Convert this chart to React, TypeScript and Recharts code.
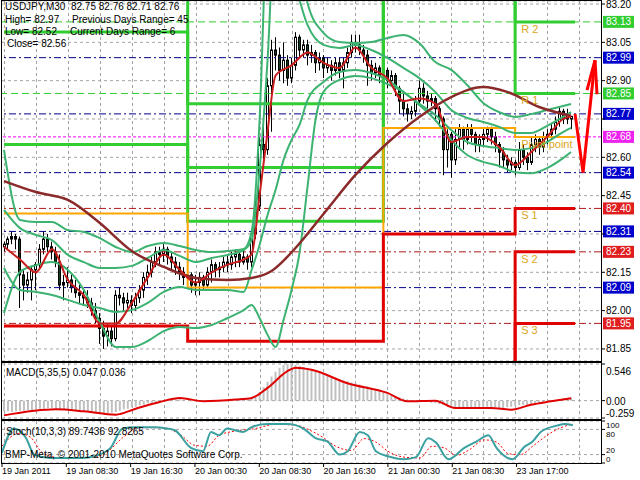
import React from 'react';
import {
  ComposedChart,
  Bar,
  Line,
  XAxis,
  YAxis,
  CartesianGrid,
  ReferenceLine,
  ReferenceDot,
} from 'recharts';

const FONT = '"Liberation Sans", Arial, sans-serif';
const SLOTS = 150; // 143 half-hour candles + room for the arrow on the right
const PLOT_LEFT = 2;
const PLOT_WIDTH = 599;
const GRID = '#A4A4A4';

// [open, high, low, close], USDJPY M30
const candles: number[][] = [
  [82.25, 82.27, 82.23, 82.26], [82.26, 82.29, 82.24, 82.28], [82.28, 82.31, 82.26, 82.29], [82.29, 82.30, 82.24, 82.28], [82.28, 82.29, 82.01, 82.14],
  [82.14, 82.16, 82.04, 82.10], [82.10, 82.15, 82.07, 82.12], [82.12, 82.17, 82.04, 82.16], [82.16, 82.19, 82.08, 82.18], [82.18, 82.26, 82.16, 82.24],
  [82.24, 82.31, 82.22, 82.28], [82.28, 82.30, 82.23, 82.25], [82.25, 82.27, 82.20, 82.23], [82.23, 82.25, 82.17, 82.19], [82.19, 82.22, 82.08, 82.10],
  [82.10, 82.14, 82.04, 82.11], [82.11, 82.17, 82.09, 82.12], [82.12, 82.14, 82.07, 82.09], [82.09, 82.12, 82.05, 82.07], [82.07, 82.10, 82.03, 82.06],
  [82.06, 82.09, 82.02, 82.05], [82.05, 82.08, 82.01, 82.03], [82.03, 82.05, 81.98, 82.00], [82.00, 82.03, 81.95, 81.97], [81.97, 81.99, 81.87, 81.93],
  [81.93, 81.96, 81.85, 81.90], [81.90, 81.95, 81.86, 81.92], [81.92, 81.94, 81.86, 81.89], [81.89, 82.08, 81.88, 82.06], [82.06, 82.09, 82.02, 82.05],
  [82.05, 82.07, 82.00, 82.03], [82.03, 82.07, 82.01, 82.04], [82.04, 82.06, 81.99, 82.02], [82.02, 82.07, 82.00, 82.05], [82.05, 82.10, 82.03, 82.08],
  [82.08, 82.15, 82.05, 82.13], [82.13, 82.18, 82.10, 82.15], [82.15, 82.21, 82.13, 82.19], [82.19, 82.25, 82.17, 82.23], [82.23, 82.25, 82.18, 82.22],
  [82.22, 82.26, 82.19, 82.24], [82.24, 82.25, 82.18, 82.21], [82.21, 82.23, 82.16, 82.19], [82.19, 82.21, 82.14, 82.17], [82.17, 82.19, 82.12, 82.15],
  [82.15, 82.17, 82.10, 82.13], [82.13, 82.17, 82.11, 82.14], [82.14, 82.15, 82.07, 82.10], [82.10, 82.14, 82.06, 82.11], [82.11, 82.15, 82.06, 82.13],
  [82.13, 82.14, 82.08, 82.10], [82.10, 82.17, 82.09, 82.15], [82.15, 82.20, 82.11, 82.18], [82.18, 82.19, 82.13, 82.16], [82.16, 82.19, 82.13, 82.17],
  [82.17, 82.21, 82.15, 82.19], [82.19, 82.22, 82.15, 82.18], [82.18, 82.23, 82.16, 82.21], [82.21, 82.24, 82.17, 82.22], [82.22, 82.23, 82.17, 82.19],
  [82.19, 82.24, 82.18, 82.21], [82.21, 82.22, 82.16, 82.19], [82.19, 82.32, 82.17, 82.30], [82.30, 82.43, 82.28, 82.41], [82.41, 82.68, 82.39, 82.65],
  [82.65, 82.75, 82.59, 82.63], [82.63, 82.91, 82.61, 82.88], [82.88, 83.06, 82.70, 83.02], [83.02, 83.07, 82.94, 83.00], [83.00, 83.03, 82.90, 82.94],
  [82.94, 83.05, 82.89, 82.98], [82.98, 83.00, 82.88, 82.91], [82.91, 82.99, 82.89, 82.96], [82.96, 83.09, 82.94, 83.07], [83.07, 83.08, 82.99, 83.02],
  [83.02, 83.06, 82.99, 83.04], [83.04, 83.06, 82.96, 83.00], [83.00, 83.04, 82.97, 83.01], [83.01, 83.02, 82.93, 82.97], [82.97, 83.01, 82.94, 82.99],
  [82.99, 83.00, 82.91, 82.95], [82.95, 82.99, 82.93, 82.96], [82.96, 82.98, 82.90, 82.94], [82.94, 82.99, 82.92, 82.97], [82.97, 82.99, 82.91, 82.94],
  [82.94, 82.99, 82.87, 82.97], [82.97, 83.03, 82.95, 83.01], [83.01, 83.08, 82.99, 83.05], [83.05, 83.08, 83.01, 83.04], [83.04, 83.08, 83.00, 83.02],
  [83.02, 83.04, 82.97, 83.00], [83.00, 83.02, 82.88, 82.96], [82.96, 82.98, 82.90, 82.93], [82.93, 82.97, 82.91, 82.95], [82.95, 82.96, 82.89, 82.92],
  [82.92, 82.96, 82.83, 82.94], [82.94, 82.95, 82.87, 82.90], [82.90, 82.94, 82.88, 82.92], [82.92, 82.93, 82.84, 82.87], [82.87, 82.88, 82.77, 82.82],
  [82.82, 82.85, 82.76, 82.79], [82.79, 82.81, 82.74, 82.77], [82.77, 82.80, 82.75, 82.78], [82.78, 82.84, 82.76, 82.82], [82.82, 82.90, 82.81, 82.87],
  [82.87, 82.89, 82.81, 82.84], [82.84, 82.86, 82.79, 82.82], [82.82, 82.85, 82.80, 82.83], [82.83, 82.84, 82.74, 82.79], [82.79, 82.80, 82.72, 82.75],
  [82.75, 82.76, 82.53, 82.63], [82.63, 82.71, 82.56, 82.69], [82.69, 82.70, 82.52, 82.59], [82.59, 82.71, 82.57, 82.67], [82.67, 82.73, 82.64, 82.71],
  [82.71, 82.72, 82.63, 82.67], [82.67, 82.73, 82.65, 82.71], [82.71, 82.73, 82.66, 82.69], [82.69, 82.70, 82.62, 82.65], [82.65, 82.69, 82.62, 82.67],
  [82.67, 82.71, 82.64, 82.69], [82.69, 82.72, 82.66, 82.71], [82.71, 82.72, 82.65, 82.68], [82.68, 82.70, 82.62, 82.65], [82.65, 82.66, 82.56, 82.62],
  [82.62, 82.64, 82.56, 82.59], [82.59, 82.61, 82.54, 82.57], [82.57, 82.60, 82.55, 82.58], [82.58, 82.59, 82.53, 82.56], [82.56, 82.66, 82.55, 82.63],
  [82.63, 82.65, 82.57, 82.60], [82.60, 82.62, 82.55, 82.58], [82.58, 82.68, 82.57, 82.65], [82.65, 82.69, 82.62, 82.67], [82.67, 82.68, 82.61, 82.64],
  [82.64, 82.70, 82.62, 82.68], [82.68, 82.71, 82.65, 82.69], [82.69, 82.73, 82.67, 82.71], [82.71, 82.76, 82.69, 82.74], [82.74, 82.80, 82.72, 82.78],
  [82.78, 82.79, 82.73, 82.75], [82.75, 82.79, 82.73, 82.77], [82.75, 82.76, 82.71, 82.76],
];

// moving averages, [bar, price]
const maFast = [
  [0, 82.25], [4, 82.2], [8, 82.15], [12, 82.24], [16, 82.12], [20, 82.06], [24, 81.95], [28, 81.95], [32, 82.03],
  [36, 82.13], [40, 82.22], [44, 82.16], [48, 82.11], [52, 82.15], [56, 82.18], [60, 82.2], [62, 82.22], [64, 82.45],
  [66, 82.7], [68, 82.92], [72, 82.96], [76, 83.01], [80, 82.97], [84, 82.95], [88, 83.03], [92, 82.95], [96, 82.91],
  [100, 82.82], [104, 82.83], [108, 82.81], [112, 82.66], [116, 82.68], [120, 82.68], [124, 82.64], [128, 82.57],
  [132, 82.62], [136, 82.68], [140, 82.75], [142, 82.76],
];
const maSlow = [
  [0, 82.507], [8, 82.464], [16, 82.433], [24, 82.343], [32, 82.233], [40, 82.171], [48, 82.128], [56, 82.12],
  [62, 82.128], [67, 82.155], [73, 82.245], [80, 82.378], [88, 82.531], [96, 82.656], [104, 82.758], [112, 82.836],
  [120, 82.875], [126, 82.856], [134, 82.797], [142, 82.762],
];

// envelope bands, [bar, price]
const bandUpperOuter = [
  [0, 82.629], [4, 82.355], [8, 82.347], [12, 82.347], [16, 82.315], [20, 82.308], [24, 82.284], [28, 82.249],
  [32, 82.229], [36, 82.253], [40, 82.265], [44, 82.253], [48, 82.237], [52, 82.229], [56, 82.233], [60, 82.241],
  [62, 82.308], [64, 82.746], [66, 83.61], [68, 83.9], [72, 83.6], [76, 83.204], [80, 83.087], [84, 83.051],
  [88, 83.047], [92, 83.051], [96, 83.067], [100, 83.079], [104, 83.047], [108, 82.973], [112, 82.942], [116, 82.883],
  [120, 82.813], [124, 82.777], [128, 82.758], [132, 82.769], [136, 82.785], [140, 82.801], [142, 82.809],
];
const bandUpperInner = [
  [0, 82.394], [4, 82.323], [8, 82.296], [12, 82.276], [16, 82.218], [20, 82.19], [24, 82.167], [28, 82.167],
  [32, 82.175], [36, 82.206], [40, 82.237], [44, 82.214], [48, 82.19], [52, 82.206], [56, 82.218], [60, 82.237],
  [62, 82.276], [64, 82.55], [66, 82.981], [68, 83.53], [72, 83.33], [76, 83.118], [80, 83.04], [84, 83.028],
  [88, 83.04], [92, 83.02], [96, 82.989], [100, 82.95], [104, 82.91], [108, 82.856], [112, 82.785], [116, 82.754],
  [120, 82.738], [124, 82.719], [128, 82.695], [132, 82.695], [136, 82.723], [140, 82.758], [142, 82.777],
];
const bandLowerInner = [
  [0, 82.167], [4, 82.081], [8, 82.073], [12, 82.061], [16, 82.042], [20, 82.022], [24, 82.01], [28, 81.995],
  [32, 82.002], [36, 82.03], [40, 82.073], [44, 82.092], [48, 82.081], [52, 82.081], [56, 82.081], [60, 82.073],
  [62, 82.159], [64, 82.257], [66, 82.374], [68, 82.472], [70, 82.59], [72, 82.668], [74, 82.727], [76, 82.824],
  [80, 82.895], [84, 82.934], [88, 82.942], [92, 82.93], [96, 82.903], [100, 82.856], [104, 82.809], [108, 82.766],
  [112, 82.707], [116, 82.66], [120, 82.644], [124, 82.636], [128, 82.629], [132, 82.636], [136, 82.66], [140, 82.699],
  [142, 82.715],
];
const bandLowerOuter = [
  [0, 81.991], [4, 82.151], [8, 82.178], [12, 82.19], [16, 82.159], [20, 82.081], [24, 81.955], [28, 81.858],
  [32, 81.858], [36, 81.881], [40, 81.92], [44, 81.936], [48, 81.932], [52, 81.944], [56, 81.971], [60, 82.002],
  [62, 82.022], [64, 81.971], [66, 81.905], [68, 81.858], [70, 81.963], [72, 82.081], [74, 82.225], [76, 82.484],
  [78, 82.746], [80, 82.856], [84, 82.903], [88, 82.918], [92, 82.91], [96, 82.887], [100, 82.856], [104, 82.805],
  [108, 82.746], [112, 82.668], [116, 82.609], [120, 82.582], [124, 82.566], [128, 82.542], [132, 82.538],
  [136, 82.558], [140, 82.597], [142, 82.621],
];

// daily pivot levels, one value per day start (last entry closes the final day)
const dayStarts = [0, 46, 95, 128, 143];
const pivotR3 = [83.6, 82.81, 83.6, 83.6, 83.6];
const pivotR2 = [83.09, 82.56, 83.5, 83.13, 83.13];
const pivotR1 = [82.65, 82.35, 83.4, 82.85, 82.85];
const pivotP = [82.38, 82.09, 82.715, 82.68, 82.68];
const pivotS1 = [81.94, 81.88, 82.3, 82.4, 82.4];
const pivotS2 = [81.5, 81.5, 81.6, 82.23, 82.23];
const pivotS3 = [81.3, 81.3, 81.4, 81.95, 81.95];
const pivotTags = ['R 2', 'R 1', 'Pivot point', 'S 1', 'S 2', 'S 3'];
const pivotTagValues = [83.13, 82.85, 82.68, 82.4, 82.23, 81.95];

// horizontal levels with price tags on the scale
const levelValues = [83.13, 82.99, 82.85, 82.77, 82.68, 82.54, 82.4, 82.31, 82.23, 82.09, 81.95];
const levelKinds = ['g', 'b', 'g', 'b', 'm', 'b', 'r', 'b', 'r', 'b', 'r'];

// forecast arrow, [bar, price]
const arrowPts = [[143, 82.77], [145, 82.54], [148, 82.98]];

// MACD(5,35,5)
const macdHist = [
  -0.16, -0.16, -0.17, -0.16, -0.15, -0.15, -0.14, -0.14, -0.13, -0.12, -0.12, -0.11, -0.11, -0.12, -0.13, -0.14,
  -0.14, -0.15, -0.15, -0.16, -0.16, -0.17, -0.17, -0.18, -0.18, -0.19, -0.19, -0.18, -0.17, -0.15, -0.13, -0.12,
  -0.1, -0.09, -0.07, -0.06, -0.04, -0.03, -0.02, -0.01, 0.01, 0.02, 0.03, 0.03, 0.02, 0.01, 0.0, -0.01,
  -0.01, -0.02, -0.02, -0.01, -0.01, 0.0, 0.0, 0.01, 0.01, 0.02, 0.02, 0.03, 0.03, 0.03, 0.04, 0.07,
  0.13, 0.2, 0.28, 0.36, 0.43, 0.49, 0.53, 0.546, 0.54, 0.53, 0.52, 0.5, 0.48, 0.46, 0.44, 0.42,
  0.4, 0.38, 0.36, 0.34, 0.32, 0.3, 0.29, 0.27, 0.26, 0.24, 0.22, 0.21, 0.19, 0.17, 0.15, 0.13,
  0.11, 0.09, 0.07, 0.05, 0.03, 0.02, 0.01, 0.0, -0.01, -0.01, -0.02, -0.03, -0.04, -0.05, -0.06, -0.08,
  -0.1, -0.11, -0.12, -0.12, -0.12, -0.11, -0.1, -0.1, -0.09, -0.09, -0.1, -0.1, -0.11, -0.11, -0.1, -0.09,
  -0.08, -0.07, -0.06, -0.06, -0.05, -0.04, -0.03, -0.02, -0.01, 0.0, 0.01, 0.02, 0.03, 0.04, 0.047,
];
const macdSignal = [
  [0, -0.22], [13, -0.13], [20, -0.16], [28, -0.21], [33, -0.12], [39, -0.02], [44, 0.04], [50, -0.01],
  [58, 0.015], [62, 0.04], [66, 0.19], [71, 0.44], [73, 0.49], [77, 0.46], [86, 0.26], [96, 0.115],
  [101, -0.01], [108, 0.0], [113, -0.11], [122, -0.11], [127, -0.135], [132, -0.06], [137, -0.01], [142, 0.036],
];

// Stoch(10,3,3)
const stochMain = [
  [0, 24], [3, 82], [6, 59], [8, 20], [12, 12], [20, 12], [23, 16], [27, 36], [30, 82], [33, 85], [38, 85],
  [41, 82], [43, 78], [47, 36], [50, 28], [52, 74], [54, 66], [56, 82], [60, 74], [62, 85], [66, 93], [71, 93],
  [75, 82], [78, 59], [81, 51], [84, 20], [86, 28], [89, 74], [91, 66], [93, 28], [96, 16], [100, 9], [103, 14],
  [106, 59], [108, 48], [111, 9], [115, 36], [118, 51], [121, 66], [123, 36], [127, 9], [130, 39], [132, 51],
  [134, 74], [138, 89], [140, 93], [142, 89.74],
];
const stochSignal = [
  [0, 40], [4, 70], [7, 62], [10, 25], [14, 13], [22, 13], [26, 25], [30, 60], [34, 84], [40, 84], [44, 70],
  [48, 42], [51, 40], [54, 66], [58, 76], [63, 82], [68, 92], [73, 90], [77, 76], [80, 60], [83, 40], [87, 30],
  [90, 58], [93, 50], [96, 28], [100, 14], [104, 12], [107, 40], [110, 36], [113, 18], [116, 30], [120, 55],
  [123, 50], [126, 22], [129, 20], [132, 40], [135, 62], [139, 84], [142, 92.83],
];

const priceTicks = [83.2, 83.05, 82.9, 82.75, 82.6, 82.45, 82.3, 82.15, 82.0, 81.85];
const coveredTicks = [82.75, 82.3];
const timeTicks = [0, 16, 32, 48, 64, 80, 96, 112, 128];
const timeLabels = [
  '19 Jan 2011', '19 Jan 08:30', '19 Jan 16:30', '20 Jan 00:30', '20 Jan 08:30',
  '20 Jan 16:30', '21 Jan 00:30', '21 Jan 08:30', '23 Jan 17:00',
];
const gridBars = [0, 8, 16, 24, 32, 40, 48, 56, 64, 72, 80, 88, 96, 104, 112, 120, 128, 136, 144];

// one row per bar slot
const rows: any[] = Array.from({ length: SLOTS }, (_, i) => ({ i }));
candles.forEach(([o, h, l, c], i) => Object.assign(rows[i], { o, h, l, c, range: [l, h] }));
macdHist.forEach((v, i) => (rows[i].hist = v));
const put = (key: string, pts: number[][]) => pts.forEach(([i, v]) => (rows[i][key] = v));
put('maFast', maFast);
put('maSlow', maSlow);
put('uo', bandUpperOuter);
put('ui', bandUpperInner);
put('li', bandLowerInner);
put('lo', bandLowerOuter);
put('arrow', arrowPts);
put('sig', macdSignal);
put('k', stochMain);
put('d', stochSignal);
const pivots: [string, number[]][] = [
  ['r3', pivotR3], ['r2', pivotR2], ['r1', pivotR1], ['p', pivotP], ['s1', pivotS1], ['s2', pivotS2], ['s3', pivotS3],
];
pivots.forEach(([key, vals]) => dayStarts.forEach((d, k) => (rows[d][key] = vals[k])));

const levelStyle: Record<string, { line: string; box: string; dash: string }> = {
  g: { line: '#32CD32', box: '#32CD32', dash: '7 4' },
  b: { line: '#00008B', box: '#0000CC', dash: '7 3 2 3' },
  r: { line: '#B01818', box: '#E01E1E', dash: '7 3 2 3' },
  m: { line: '#FF00FF', box: '#EE22EE', dash: '3 2' },
};
const pivotColor: Record<string, string> = {
  r3: '#32CD32', r2: '#32CD32', r1: '#32CD32', p: '#FFA500', s1: '#E00000', s2: '#E00000', s3: '#E00000',
};

// vertical grid every 8 bars, centred on the bar slots
const gridXs = gridBars.map(k => Math.round(PLOT_LEFT + ((k + 0.5) * PLOT_WIDTH) / SLOTS));
const panelSpans = [[1, 360], [363, 418], [421, 463]];

const Candle = (props: any) => {
  const { x, y, width, height, payload } = props;
  if (!payload || payload.o == null) return <g />;
  const top = Math.min(y, y + height);
  const bot = Math.max(y, y + height);
  const span = payload.h - payload.l || 1;
  const yOf = (v: number) => top + ((payload.h - v) / span) * (bot - top);
  const cx = Math.round(x + width / 2) + 0.5;
  const bTop = yOf(Math.max(payload.o, payload.c));
  const bBot = yOf(Math.min(payload.o, payload.c));
  const up = payload.c >= payload.o;
  return (
    <g>
      <line x1={cx} x2={cx} y1={top} y2={bot} stroke="#000" strokeWidth={1} />
      <rect
        x={cx - 1}
        y={bTop}
        width={2}
        height={Math.max(bBot - bTop, 1)}
        fill={up ? '#FFFFFF' : '#123D1A'}
        stroke="#000"
        strokeWidth={1}
      />
    </g>
  );
};

const LevelTag = ({ viewBox, text, color }: any) => {
  if (!viewBox) return null;
  const left = viewBox.x + viewBox.width + 2;
  return (
    <g>
      <rect x={left} y={viewBox.y - 6} width={31} height={12} fill={color} />
      <text x={left + 15.5} y={viewBox.y + 3.5} textAnchor="middle" fill="#fff" fontSize={10} fontFamily={FONT}>
        {text}
      </text>
    </g>
  );
};

const PivotTag = ({ viewBox, text }: any) =>
  viewBox ? (
    <text x={viewBox.x + 6} y={viewBox.y + 11} fill="#DAA520" fontSize={11} fontFamily={FONT}>
      {text}
    </text>
  ) : null;

const PriceTick = ({ x, y, payload }: any) =>
  coveredTicks.includes(payload.value) ? (
    <g />
  ) : (
    <text x={x} y={y} dy={3.5} fontSize={10} fontFamily={FONT} fill="#000">
      {Number(payload.value).toFixed(2)}
    </text>
  );

const MacdTick = ({ x, y, payload }: any) => {
  const v = payload.value;
  const dy = v > 0 ? 11 : v < 0 ? -1 : 4.5;
  const label = v === 0 ? '0.00' : String(v);
  return (
    <text x={x} y={y} dy={dy} fontSize={10} fontFamily={FONT} fill="#000">
      {label}
    </text>
  );
};

// the four stoch labels sit close together, so they are nudged apart
const stochShift: Record<number, number> = { 100: 7, 80: 7.5, 20: -1.5, 0: -1.5 };
const StochTick = ({ x, y, payload }: any) => (
  <text x={x} y={y} dy={stochShift[payload.value]} fontSize={8} fontFamily={FONT} fill="#000">
    {payload.value}
  </text>
);

const TimeTick = ({ x, y, payload }: any) => (
  <text x={x} y={y} dy={6} fontSize={9} fontFamily={FONT} fill="#000">
    {timeLabels[timeTicks.indexOf(payload.value)]}
  </text>
);

const ArrowHead = (p: any) =>
  p.payload && p.payload.i === 148 ? (
    <path
      key="head"
      d={`M${p.cx - 8},${p.cy + 30} L${p.cx},${p.cy} L${p.cx + 2},${p.cy + 34}`}
      stroke="#FF0000"
      strokeWidth={3}
      fill="none"
    />
  ) : (
    <g key={`d${p.index}`} />
  );

const txt = (left: number, top: number, size = 10): React.CSSProperties => ({
  position: 'absolute',
  left,
  top,
  fontFamily: FONT,
  fontSize: size,
  lineHeight: '12px',
  whiteSpace: 'pre',
  color: '#000',
  pointerEvents: 'none',
});

const frame = (top: number, height: number): React.CSSProperties => ({
  position: 'absolute',
  left: 1,
  top,
  width: 601,
  height,
  border: '1px solid #000',
  boxSizing: 'border-box',
  pointerEvents: 'none',
});

const layer = (top: number): React.CSSProperties => ({ position: 'absolute', left: 0, top });

// dashed vertical grid line built from small html blocks so it never depends on svg stacking
const VGrid = ({ x, y1, y2 }: { x: number; y1: number; y2: number }) => (
  <div
    style={{
      position: 'absolute',
      left: x,
      top: y1,
      width: 1,
      height: y2 - y1,
      backgroundImage: `repeating-linear-gradient(to bottom, ${GRID} 0px, ${GRID} 3px, transparent 3px, transparent 6px)`,
      pointerEvents: 'none',
    }}
  />
);

const App: React.FC = () => {
  return (
    <div style={{ position: 'fixed', left: 0, top: 0, width: 640, height: 480, background: '#fff', overflow: 'hidden' }}>
      {gridXs.map(x => panelSpans.map(([y1, y2]) => <VGrid key={`${x}-${y1}`} x={x} y1={y1} y2={y2} />))}

      <div style={layer(0)}>
        <ComposedChart width={640} height={362} data={rows} margin={{ top: 1, right: 1, bottom: 1, left: PLOT_LEFT }}>
          <CartesianGrid vertical={false} stroke={GRID} strokeDasharray="3 3" />
          <XAxis dataKey="i" type="category" hide />
          <YAxis
            orientation="right"
            width={38}
            domain={[81.8028, 83.2118]}
            allowDataOverflow
            ticks={priceTicks}
            interval={0}
            axisLine={false}
            tickSize={4}
            tickMargin={1}
            tickLine={{ stroke: '#000' }}
            tick={<PriceTick />}
          />
          {levelValues.map((v, k) => {
            const s = levelStyle[levelKinds[k]];
            return (
              <ReferenceLine
                key={`l${v}`}
                y={v}
                stroke={s.line}
                strokeDasharray={s.dash}
                strokeWidth={1}
                label={<LevelTag text={v.toFixed(2)} color={s.box} />}
              />
            );
          })}
          {pivots.map(([key]) => (
            <Line
              key={key}
              dataKey={key}
              type="stepAfter"
              stroke={pivotColor[key]}
              strokeWidth={key === 'p' ? 2 : 3}
              dot={false}
              connectNulls
              isAnimationActive={false}
            />
          ))}
          {pivotTags.map((t, k) => (
            <ReferenceDot key={t} x={128} y={pivotTagValues[k]} r={0} fill="none" stroke="none" label={<PivotTag text={t} />} />
          ))}
          {['uo', 'ui', 'li', 'lo'].map(key => (
            <Line
              key={key}
              dataKey={key}
              type="monotone"
              stroke="#3CB371"
              strokeWidth={2}
              dot={false}
              connectNulls
              isAnimationActive={false}
            />
          ))}
          <Line dataKey="maSlow" type="monotone" stroke="#8B2A2A" strokeWidth={2.5} dot={false} connectNulls isAnimationActive={false} />
          <Bar dataKey="range" barSize={3} shape={(p: any) => <Candle {...p} />} isAnimationActive={false} />
          <Line dataKey="maFast" type="monotone" stroke="#C81E1E" strokeWidth={2} dot={false} connectNulls isAnimationActive={false} />
          <Line
            dataKey="arrow"
            type="linear"
            stroke="#FF0000"
            strokeWidth={3}
            dot={ArrowHead}
            connectNulls
            isAnimationActive={false}
          />
        </ComposedChart>
      </div>

      <div style={layer(362)}>
        <ComposedChart width={640} height={58} data={rows} margin={{ top: 2, right: 1, bottom: 2, left: PLOT_LEFT }}>
          <CartesianGrid vertical={false} stroke={GRID} strokeDasharray="3 3" />
          <XAxis dataKey="i" type="category" hide />
          <YAxis
            orientation="right"
            width={38}
            domain={[-0.259, 0.546]}
            allowDataOverflow
            ticks={[0.546, 0, -0.259]}
            interval={0}
            axisLine={false}
            tickSize={4}
            tickMargin={1}
            tickLine={{ stroke: '#000' }}
            tick={<MacdTick />}
          />
          <Bar dataKey="hist" barSize={2} fill="#C0C0C0" isAnimationActive={false} />
          <Line dataKey="sig" type="monotone" stroke="#E00000" strokeWidth={2} dot={false} connectNulls isAnimationActive={false} />
        </ComposedChart>
      </div>

      <div style={layer(420)}>
        <ComposedChart width={640} height={60} data={rows} margin={{ top: 1, right: 1, bottom: 0, left: PLOT_LEFT }}>
          <CartesianGrid vertical={false} stroke={GRID} strokeDasharray="3 3" />
          <XAxis
            dataKey="i"
            type="category"
            ticks={timeTicks}
            interval={0}
            height={17}
            axisLine={false}
            tickSize={4}
            tickMargin={1}
            tickLine={{ stroke: '#000' }}
            tick={<TimeTick />}
          />
          <YAxis
            orientation="right"
            width={38}
            domain={[0, 100]}
            allowDataOverflow
            ticks={[100, 80, 20, 0]}
            interval={0}
            axisLine={false}
            tickSize={4}
            tickMargin={1}
            tickLine={{ stroke: '#000' }}
            tick={<StochTick />}
          />
          <Line dataKey="d" type="monotone" stroke="#FF0000" strokeWidth={1} strokeDasharray="2 2" dot={false} connectNulls isAnimationActive={false} />
          <Line dataKey="k" type="monotone" stroke="#3AA0A0" strokeWidth={2} dot={false} connectNulls isAnimationActive={false} />
        </ComposedChart>
      </div>

      <div style={frame(0, 362)} />
      <div style={frame(362, 58)} />
      <div style={frame(420, 44)} />

      <div style={txt(5, 1)}>{'USDJPY,M30  82.75 82.76 82.71 82.76'}</div>
      <div style={txt(5, 14)}>High= 82.97</div>
      <div style={txt(72, 14)}>Previous Days Range= 45</div>
      <div style={txt(5, 26)}>Low= 82.52</div>
      <div style={txt(70, 26)}>Current Days Range= 6</div>
      <div style={txt(7, 38)}>Close= 82.56</div>
      <div style={txt(6, 367)}>MACD(5,35,5) 0.047 0.036</div>
      <div style={txt(6, 426)}>Stoch(10,3,3) 89.7436 92.8265</div>
      <div style={txt(5, 449)}>BMP-Meta, © 2001-2010 MetaQuotes Software Corp.</div>
    </div>
  );
};

export default App;
